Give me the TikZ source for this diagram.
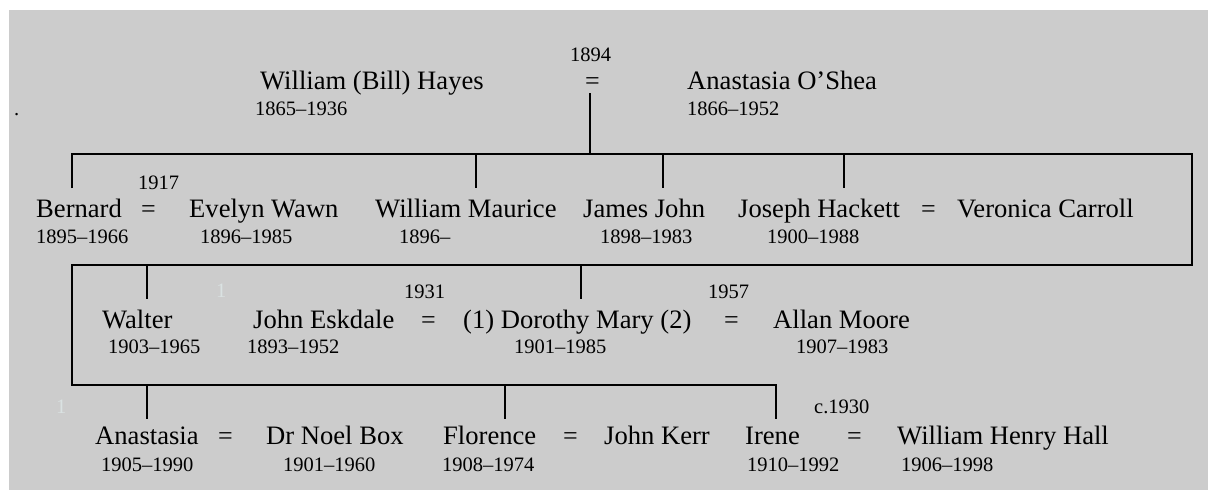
\documentclass[tikz,border=0pt]{standalone}
\usepackage{fontspec}
\setmainfont{Liberation Serif}
\definecolor{bggrey}{HTML}{CCCCCC}
\definecolor{ghost}{RGB}{218,226,226}
\tikzset{
  nm/.style={anchor=base west, inner sep=0pt, font=\fontsize{26.6}{30}\selectfont},
  dt/.style={anchor=base west, inner sep=0pt, font=\fontsize{20.5}{24}\selectfont},
  eq/.style={anchor=base west, inner sep=0pt, font=\fontsize{26}{30}\selectfont},
  gh/.style={dt, text=ghost},
  link/.style={line width=1.6pt, black},
}
\begin{document}
\begin{tikzpicture}[x=1pt,y=-1pt]
\useasboundingbox (0,0) rectangle (1208,490);
\fill[white] (0,0) rectangle (1208,490);
\fill[bggrey] (9,10) rectangle (1208,490);

% stray marks
\node[dt] (dot) at (14,115) {.};
\node[gh] (gh1) at (216,297) {1};
\node[gh] (gh2) at (56,413) {1};

% generation 0
\node[nm] (bill) at (260,89) {William (Bill) Hayes};
\node[dt] (billd) at (255,115) {1865–1936};
\node[dt] (m0y) at (570,61) {1894};
\node[eq] (m0) at (585,89) {=};
\node[nm] (anas) at (687,89) {Anastasia O’Shea};
\node[dt] (anasd) at (687,115) {1866–1952};

% generation 1
\node[dt] (m1y) at (138,189) {1917};
\node[nm] (bern) at (36,217) {Bernard};
\node[dt] (bernd) at (36,243) {1895–1966};
\node[eq] (m1) at (141,217) {=};
\node[nm] (evel) at (189,217) {Evelyn Wawn};
\node[dt] (eveld) at (200,243) {1896–1985};
\node[nm] (wmau) at (375,217) {William Maurice};
\node[dt] (wmaud) at (399,243) {1896–};
\node[nm] (jaj) at (583,217) {James John};
\node[dt] (jajd) at (600,243) {1898–1983};
\node[nm] (joh) at (738,217) {Joseph Hackett};
\node[dt] (johd) at (767,243) {1900–1988};
\node[eq] (m2) at (921,217) {=};
\node[nm] (vero) at (957,217) {Veronica Carroll};

% generation 2
\node[dt] (m3y) at (404,298) {1931};
\node[dt] (m4y) at (708,298) {1957};
\node[nm] (walt) at (102,328) {Walter};
\node[dt] (waltd) at (108,353) {1903–1965};
\node[nm] (jesk) at (253,328) {John Eskdale};
\node[dt] (jeskd) at (247,353) {1893–1952};
\node[eq] (m3) at (421,328) {=};
\node[nm] (doro) at (463,328) {(1) Dorothy Mary (2)};
\node[dt] (dorod) at (514,353) {1901–1985};
\node[eq] (m4) at (724,328) {=};
\node[nm] (alla) at (773,328) {Allan Moore};
\node[dt] (allad) at (796,353) {1907–1983};

% generation 3
\node[dt] (m7y) at (814,413) {c.1930};
\node[nm] (anas2) at (95,444) {Anastasia};
\node[dt] (anas2d) at (101,471) {1905–1990};
\node[eq] (m5) at (218,444) {=};
\node[nm] (noel) at (266,444) {Dr Noel Box};
\node[dt] (noeld) at (283,471) {1901–1960};
\node[nm] (flor) at (443,444) {Florence};
\node[dt] (flord) at (442,471) {1908–1974};
\node[eq] (m6) at (563,444) {=};
\node[nm] (kerr) at (604,444) {John Kerr};
\node[nm] (iren) at (745,444) {Irene};
\node[dt] (irend) at (747,471) {1910–1992};
\node[eq] (m7) at (847,444) {=};
\node[nm] (whh) at (897,444) {William Henry Hall};
\node[dt] (whhd) at (901,471) {1906–1998};

% line coordinates
\coordinate (p0) at (590,93);
\coordinate (barA) at (590,154);
\coordinate (cA1) at (72,154);
\coordinate (cA2) at (1192,154);
\coordinate (cB2) at (1192,265);
\coordinate (cB1) at (72,265);
\coordinate (cC1) at (72,385);
\coordinate (cC2) at (776,385);
\coordinate (tBern) at (72,188);
\coordinate (tWmauT) at (476,154);
\coordinate (tWmau) at (476,188);
\coordinate (tJajT) at (663,154);
\coordinate (tJaj) at (663,188);
\coordinate (tJohT) at (844,154);
\coordinate (tJoh) at (844,188);
\coordinate (tWaltT) at (147,265);
\coordinate (tWalt) at (147,299);
\coordinate (tDoroT) at (581,265);
\coordinate (tDoro) at (581,299);
\coordinate (tAnasT) at (147,385);
\coordinate (tAnas) at (147,419);
\coordinate (tFlorT) at (505,385);
\coordinate (tFlor) at (505,419);
\coordinate (tIren) at (776,419);

\draw[link] (p0) -- (barA);
\draw[link] (tBern) -- (cA1) -- (cA2) -- (cB2) -- (cB1) -- (cC1) -- (cC2) -- (tIren);
\draw[link] (tWmauT) -- (tWmau);
\draw[link] (tJajT) -- (tJaj);
\draw[link] (tJohT) -- (tJoh);
\draw[link] (tWaltT) -- (tWalt);
\draw[link] (tDoroT) -- (tDoro);
\draw[link] (tAnasT) -- (tAnas);
\draw[link] (tFlorT) -- (tFlor);
\end{tikzpicture}
\end{document}
